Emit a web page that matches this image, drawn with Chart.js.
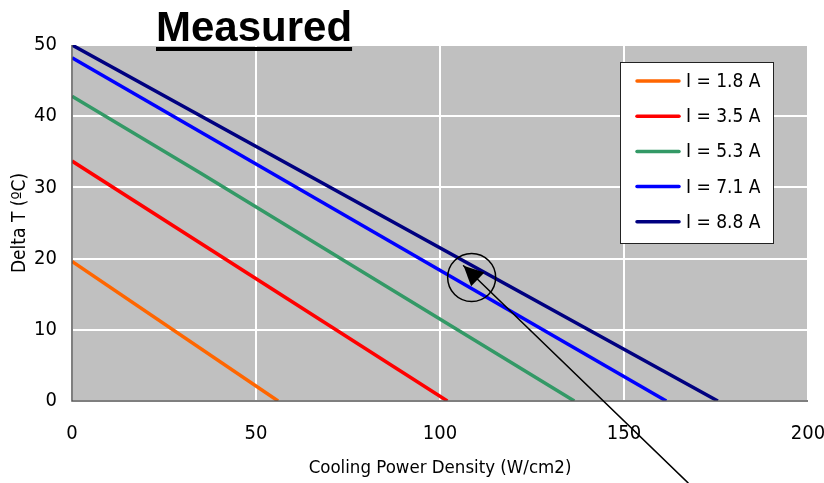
<!DOCTYPE html>
<html>
<head>
<meta charset="utf-8">
<script src="https://cdn.jsdelivr.net/npm/chart.js@4/dist/chart.umd.min.js"></script>
<style>
  html, body { margin: 0; padding: 0; background: #fff; }
  #wrap { position: relative; width: 824px; height: 483px; }
  #title { position: absolute; left: 156px; top: 6px; font: bold 42px "Liberation Sans", Arial, sans-serif;
           text-decoration: underline; text-decoration-thickness: 4px; text-underline-offset: 6px; color: #000; line-height: 42px; }
  canvas { position: absolute; left: 0; top: 0; }
</style>
</head>
<body>
<div id="wrap">
  <canvas id="c" width="824" height="483"></canvas>
  <div id="title">Measured</div>
</div>
<script>
const seriesLabels = ["I = 1.8 A", "I = 3.5 A", "I = 5.3 A", "I = 7.1 A", "I = 8.8 A"];
const seriesColors = ["#FF6600", "#FF0000", "#339966", "#0000FF", "#000080"];
const s18 = [{x: 0, y: 19.6}, {x: 56, y: 0}];
const s35 = [{x: 0, y: 33.7}, {x: 102, y: 0}];
const s53 = [{x: 0, y: 42.8}, {x: 35, y: 32}, {x: 136.5, y: 0}];
const s71 = [{x: 0, y: 48.2}, {x: 161.5, y: 0}];
const s88 = [{x: 0, y: 50}, {x: 175.5, y: 0}];
const seriesData = [s18, s35, s53, s71, s88];
const xTicks = [0, 50, 100, 150, 200];
const yTicks = [0, 10, 20, 30, 40, 50];
// annotation (data coordinates)
const circleCenter = {x: 108.6, y: 17.35};
const arrowTip = {x: 106.4, y: 19.0};
const arrowTail = {x: 167.4, y: -11.5};

const FONT = '"Liberation Sans Narrow", "Arial Narrow", "DejaVu Sans Condensed", "Liberation Sans", Arial, sans-serif';

const bgPlugin = {
  id: 'bg',
  beforeDraw(chart) {
    const {ctx, chartArea: a} = chart;
    ctx.save();
    ctx.fillStyle = '#C0C0C0';
    ctx.fillRect(a.left, a.top, a.right - a.left, a.bottom - a.top);
    ctx.restore();
  }
};

const overlayPlugin = {
  id: 'overlay',
  afterDraw(chart) {
    const {ctx, scales: {x, y}} = chart;
    ctx.save();
    // axis lines
    ctx.strokeStyle = '#555555';
    ctx.lineWidth = 1.5;
    ctx.beginPath();
    ctx.moveTo(x.getPixelForValue(0), y.getPixelForValue(50));
    ctx.lineTo(x.getPixelForValue(0), y.getPixelForValue(0));
    ctx.lineTo(x.getPixelForValue(200), y.getPixelForValue(0));
    ctx.stroke();

    // legend
    const L = 620, T = 62, W = 153, H = 181;
    ctx.fillStyle = '#FFFFFF';
    ctx.fillRect(L, T, W, H);
    ctx.strokeStyle = '#222';
    ctx.lineWidth = 1;
    ctx.strokeRect(L + 0.5, T + 0.5, W, H);
    ctx.font = '19px ' + FONT;
    ctx.textBaseline = 'middle';
    chart.data.datasets.forEach((ds, i) => {
      const cy = T + 19 + i * 35.2;
      ctx.strokeStyle = ds.borderColor;
      ctx.lineWidth = 3.5;
      ctx.lineCap = 'round';
      ctx.beginPath();
      ctx.moveTo(637, cy);
      ctx.lineTo(679, cy);
      ctx.stroke();
      ctx.fillStyle = '#000';
      ctx.fillText(ds.label, 686, cy + 1);
    });

    // annotation: circle + arrow
    const cx = x.getPixelForValue(circleCenter.x), cyy = y.getPixelForValue(circleCenter.y);
    ctx.strokeStyle = '#000';
    ctx.lineWidth = 1.5;
    ctx.beginPath();
    ctx.arc(cx, cyy, 24, 0, Math.PI * 2);
    ctx.stroke();
    const tx = x.getPixelForValue(arrowTip.x), ty = y.getPixelForValue(arrowTip.y);
    const sx = x.getPixelForValue(arrowTail.x), sy = y.getPixelForValue(arrowTail.y);
    ctx.beginPath();
    ctx.moveTo(sx, sy);
    ctx.lineTo(tx, ty);
    ctx.stroke();
    const ang = Math.atan2(ty - sy, tx - sx);
    const len = 22, half = 0.45;
    ctx.fillStyle = '#000';
    ctx.beginPath();
    ctx.moveTo(tx, ty);
    ctx.lineTo(tx - len * Math.cos(ang - half), ty - len * Math.sin(ang - half));
    ctx.lineTo(tx - len * Math.cos(ang + half), ty - len * Math.sin(ang + half));
    ctx.closePath();
    ctx.fill();
    ctx.restore();
  }
};

new Chart(document.getElementById('c'), {
  type: 'line',
  data: {
    datasets: seriesData.map((d, i) => ({
      label: seriesLabels[i],
      data: d,
      borderColor: seriesColors[i],
      backgroundColor: seriesColors[i],
      borderWidth: 3.5,
      pointRadius: 0,
      tension: 0,
      fill: false
    }))
  },
  options: {
    responsive: false,
    animation: false,
    devicePixelRatio: 1,
    layout: { padding: { left: 0, top: 45, right: 16, bottom: 0 } },
    plugins: { legend: { display: false }, tooltip: { enabled: false }, title: { display: false } },
    scales: {
      x: {
        type: 'linear', min: 0, max: 200,
        afterFit(s) { s.height = 82; s.paddingLeft = 0; s.paddingRight = 0; },
        afterBuildTicks(s) { s.ticks = xTicks.map(v => ({value: v})); },
        grid: { color: '#FFFFFF', lineWidth: 2, drawTicks: false },
        border: { display: false },
        ticks: { color: '#000', font: { family: FONT, size: 20 }, padding: 21, maxRotation: 0 },
        title: { display: true, text: 'Cooling Power Density (W/cm2)', color: '#000',
                 font: { family: FONT, size: 18.5 }, padding: { top: 0, bottom: 4 } }
      },
      y: {
        type: 'linear', min: 0, max: 50,
        afterFit(s) { s.width = 72; s.paddingTop = 0; s.paddingBottom = 0; },
        afterBuildTicks(s) { s.ticks = yTicks.map(v => ({value: v})); },
        grid: { color: '#FFFFFF', lineWidth: 2, drawTicks: false },
        border: { display: false },
        ticks: { color: '#000', font: { family: FONT, size: 20 }, padding: 15 },
        title: { display: true, text: 'Delta T (ºC)', color: '#000',
                 font: { family: FONT, size: 19 }, padding: { top: 9, bottom: 0 } }
      }
    }
  },
  plugins: [bgPlugin, overlayPlugin]
});
</script>
</body>
</html>
